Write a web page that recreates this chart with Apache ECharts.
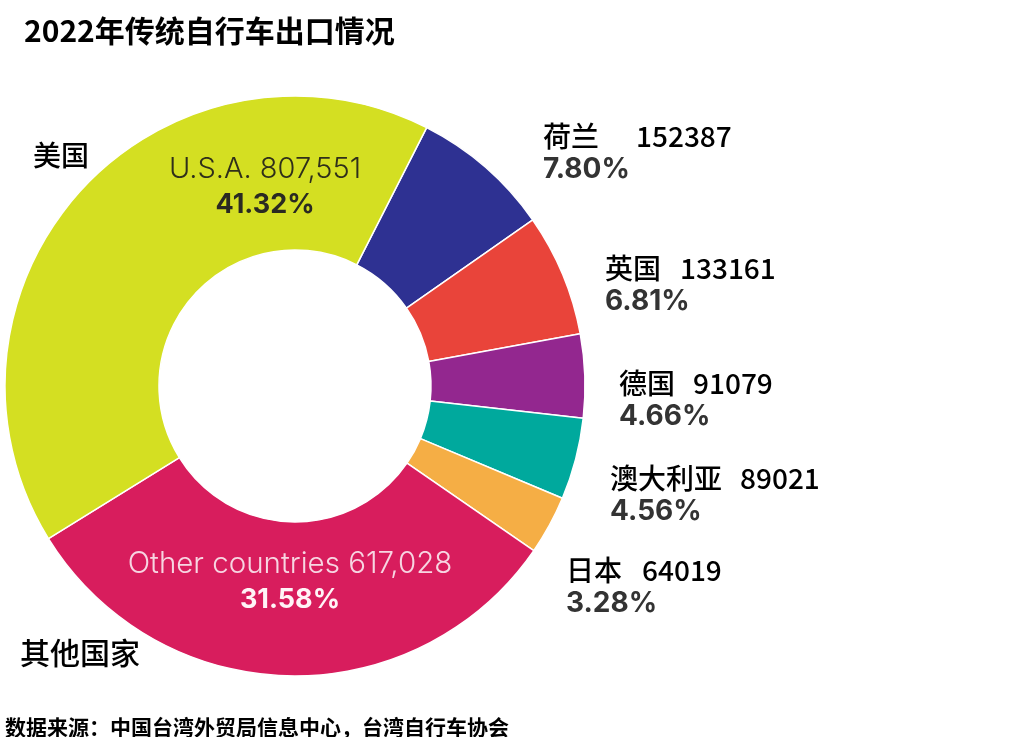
<!DOCTYPE html>
<html>
<head>
<meta charset="utf-8">
<script src="https://cdn.jsdelivr.net/npm/echarts@6/dist/echarts.min.js"></script>
<style>
html,body{margin:0;padding:0;background:#fff;}
#c{width:1024px;height:737px;}
</style>
</head>
<body>
<div id="c"></div>
<script>
// ---- data ----
const countriesCN = ['荷兰', '英国', '德国', '澳大利亚', '日本', '其他国家', '美国'];
const countriesEN = ['Netherlands', 'United Kingdom', 'Germany', 'Australia', 'Japan', 'Other countries', 'U.S.A.'];
const exports2022 = [152387, 133161, 91079, 89021, 64019, 617028, 807551];
const shareLabels = ['7.80%', '6.81%', '4.66%', '4.56%', '3.28%', '31.58%', '41.32%'];

// ---- styles / layout ----
const palette = ['#2e3192', '#e9443a', '#93278f', '#00a99d', '#f5ae45', '#d81d5d', '#d4df22'];
const labelPos = [
  {x: 543, y: 120, gap: 37},
  {x: 605, y: 252, gap: 19},
  {x: 619, y: 367, gap: 18},
  {x: 610, y: 462, gap: 18},
  {x: 566, y: 554, gap: 20},
  {x: 290, y: 547, inside: true},
  {x: 265, y: 152, inside: true}
];
const cnNamePos = {5: {x: 20, y: 653, size: 30}, 6: {x: 33, y: 155, size: 28}};
const cnWeight = 500;

const fmtComma = v => String(v).replace(/\B(?=(\d{3})+(?!\d))/g, ',');

const mainData = exports2022.map((v, i) => ({
  name: countriesCN[i],
  value: v,
  itemStyle: {color: palette[i]}
}));
const nameData = exports2022.map((v, i) => ({
  name: countriesCN[i],
  value: v,
  label: {show: !!cnNamePos[i]}
}));

const chart = echarts.init(document.getElementById('c'), null, {renderer: 'canvas'});
chart.setOption({
  animation: false,
  backgroundColor: '#ffffff',
  title: [
    {
      text: '2022年传统自行车出口情况',
      left: 19, top: 11,
      textStyle: {fontFamily: 'Noto Sans CJK SC', fontSize: 30, fontWeight: 'bold', color: '#000'}
    },
    {
      text: '数据来源：中国台湾外贸局信息中心，台湾自行车协会',
      left: 0, top: 710,
      textStyle: {fontFamily: 'Noto Sans CJK SC', fontSize: 21, fontWeight: 'bold', color: '#000', lineHeight: 24}
    }
  ],
  series: [
    {
      type: 'pie',
      silent: true,
      center: [295, 386],
      radius: [136, 290],
      startAngle: 63,
      clockwise: true,
      avoidLabelOverlap: false,
      itemStyle: {color: 'rgba(0,0,0,0)', borderWidth: 0},
      label: {
        show: true,
        position: 'outside',
        formatter: p => p.name,
        fontFamily: 'Noto Sans CJK SC',
        fontWeight: cnWeight,
        color: '#000',
        fontSize: 28
      },
      labelLine: {show: false},
      labelLayout: p => {
        const pos = cnNamePos[p.dataIndex];
        if (!pos) return {};
        return {x: pos.x, y: pos.y, align: 'left', verticalAlign: 'middle', fontSize: pos.size};
      },
      data: nameData
    },
    {
      type: 'pie',
      silent: true,
      center: [295, 386],
      radius: [136, 290],
      startAngle: 63,
      clockwise: true,
      avoidLabelOverlap: false,
      itemStyle: {borderColor: '#ffffff', borderWidth: 1.5},
      label: {
        show: true,
        position: 'outside',
        formatter: p => {
          const i = p.dataIndex;
          if (labelPos[i].inside) {
            const t = i === 5 ? 'o' : 'u';
            return '{' + t + 'n|' + countriesEN[i] + ' ' + fmtComma(exports2022[i]) + '}\n{' + t + 'p|' + shareLabels[i] + '}';
          }
          return '{n|' + countriesCN[i] + '}{g' + i + '|}{v|' + exports2022[i] + '}\n{p|' + shareLabels[i] + '}';
        },
        rich: (function () {
          const r = {
            n: {fontFamily: 'Noto Sans CJK SC', fontSize: 28, fontWeight: cnWeight, color: '#000', lineHeight: 33},
            v: {fontFamily: 'Noto Sans CJK SC', fontSize: 28, fontWeight: cnWeight, color: '#000', lineHeight: 33},
            p: {fontFamily: 'Inter, Open Sans, sans-serif', fontSize: 28, fontWeight: 'bold', color: '#333', lineHeight: 33},
            un: {fontFamily: 'Inter, Open Sans, sans-serif', fontSize: 29, fontWeight: 300, color: '#2f2f1a', lineHeight: 35, align: 'center'},
            up: {fontFamily: 'Inter, Open Sans, sans-serif', fontSize: 27, fontWeight: 'bold', color: '#2a2a22', lineHeight: 35, align: 'center'},
            on: {fontFamily: 'Inter, Open Sans, sans-serif', fontSize: 29.5, fontWeight: 300, color: '#f7d6e2', lineHeight: 35, align: 'center'},
            op: {fontFamily: 'Inter, Open Sans, sans-serif', fontSize: 27, fontWeight: 'bold', color: '#fff4f7', lineHeight: 35, align: 'center'}
          };
          labelPos.forEach((lp, i) => { if (!lp.inside) r['g' + i] = {width: lp.gap, fontSize: 28, lineHeight: 33}; });
          return r;
        })()
      },
      labelLine: {show: false},
      labelLayout: p => {
        const lp = labelPos[p.dataIndex];
        return {x: lp.x, y: lp.y, align: lp.inside ? 'center' : 'left', verticalAlign: 'top'};
      },
      data: mainData
    }
  ]
});
</script>
</body>
</html>
